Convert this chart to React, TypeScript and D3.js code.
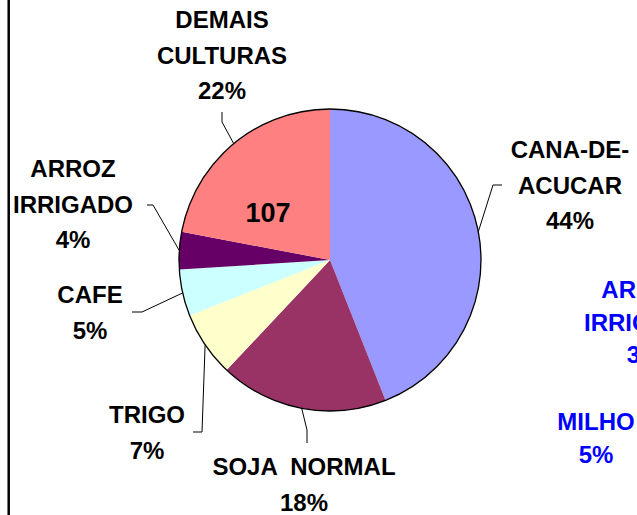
import React, { useRef, useEffect } from "react";
import * as d3 from "d3";

const categories = ["CANA-DE-ACUCAR", "SOJA  NORMAL", "TRIGO", "CAFE", "ARROZ IRRIGADO", "DEMAIS CULTURAS"];
const values = [44, 18, 7, 5, 4, 22];
const labelLines = [
  ["CANA-DE-", "ACUCAR", "44%"],
  ["SOJA  NORMAL", "18%"],
  ["TRIGO", "7%"],
  ["CAFE", "5%"],
  ["ARROZ", "IRRIGADO", "4%"],
  ["DEMAIS", "CULTURAS", "22%"],
];
const colors = ["#9999FF", "#993366", "#FFFFCC", "#CCFFFF", "#660066", "#FF8080"];

// text boxes lying on the right side (from another chart, cropped)
const sideLabels = [
  ["ARROZ", "IRRIGADO", "3%"],
  ["MILHO", "5%"],
];
const innerText = "107";

// label layout: centre x, first baseline, leader start and elbow
const labelPos = [
  { x: 570, y: 158, start: [502, 185], elbow: [493, 185] },
  { x: 304, y: 475, start: [307, 443], elbow: [307, 430] },
  { x: 147, y: 423, start: [193, 432], elbow: [202, 432] },
  { x: 90, y: 303, start: [132, 312], elbow: [142, 312] },
  { x: 73, y: 177, start: [147, 205], elbow: [153, 205] },
  { x: 222, y: 28, start: [222, 112], elbow: [222, 122] },
];
const sidePos = [
  { x: 644, y: 298, dy: 32.5 },
  { x: 596, y: 430, dy: 33 },
];

const W = 637;
const H = 515;
const cx = 330;
const cy = 260;
const radius = 151;
const font = "Arial, 'Liberation Sans', sans-serif";

const App = () => {
  const ref = useRef<SVGSVGElement>(null);

  useEffect(() => {
    if (!ref.current) return;
    const svg = d3.select(ref.current);
    svg.selectAll("*").remove();

    svg.append("rect").attr("width", W).attr("height", H).attr("fill", "#fff");

    // left frame line
    svg
      .append("line")
      .attr("x1", 8.7)
      .attr("x2", 8.7)
      .attr("y1", 0)
      .attr("y2", H)
      .attr("stroke", "#000")
      .attr("stroke-width", 2.5);

    const data = categories.map((c, i) => ({ label: c, value: values[i], i }));
    const pie = d3
      .pie<any>()
      .value((d) => d.value)
      .sort(null);
    const arcs = pie(data);

    const arc = d3.arc<any>().innerRadius(0).outerRadius(radius);
    const edge = d3.arc<any>().innerRadius(radius).outerRadius(radius);

    const g = svg.append("g").attr("transform", `translate(${cx},${cy})`);

    g.selectAll(".slice")
      .data(arcs)
      .enter()
      .append("path")
      .attr("class", "slice")
      .attr("d", arc)
      .attr("fill", (d) => colors[d.data.i]);

    g.append("circle")
      .attr("r", radius)
      .attr("fill", "none")
      .attr("stroke", "#000")
      .attr("stroke-width", 1.3);

    // leader lines
    arcs.forEach((d) => {
      const p = labelPos[d.data.i];
      const [ex, ey] = edge.centroid(d);
      const pts: [number, number][] = [
        [p.start[0], p.start[1]],
        [p.elbow[0], p.elbow[1]],
        [ex + cx, ey + cy],
      ];
      svg
        .append("path")
        .attr("d", d3.line()(pts))
        .attr("fill", "none")
        .attr("stroke", "#000")
        .attr("stroke-width", 1);
    });

    // category labels
    labelLines.forEach((lines, i) => {
      const p = labelPos[i];
      const t = svg
        .append("text")
        .attr("text-anchor", "middle")
        .attr("font-family", font)
        .attr("font-weight", "bold")
        .attr("font-size", 24)
        .attr("fill", "#000");
      lines.forEach((s, k) => {
        t.append("tspan")
          .attr("x", p.x)
          .attr("y", p.y + k * 35.5)
          .style("white-space", "pre")
          .text(s);
      });
    });

    // value in the pink slice
    svg
      .append("text")
      .attr("x", 268)
      .attr("y", 222)
      .attr("text-anchor", "middle")
      .attr("font-family", font)
      .attr("font-weight", "bold")
      .attr("font-size", 27)
      .attr("fill", "#000")
      .text(innerText);

    // blue side labels
    sideLabels.forEach((lines, i) => {
      const p = sidePos[i];
      const t = svg
        .append("text")
        .attr("text-anchor", "middle")
        .attr("font-family", font)
        .attr("font-weight", "bold")
        .attr("font-size", 24)
        .attr("fill", "#0000FF");
      lines.forEach((s, k) => {
        t.append("tspan")
          .attr("x", p.x)
          .attr("y", p.y + k * p.dy)
          .text(s);
      });
    });
  }, []);

  return (
    <svg
      ref={ref}
      width={W}
      height={H}
      style={{ position: "absolute", left: 0, top: 0, display: "block" }}
    />
  );
};

export default App;
